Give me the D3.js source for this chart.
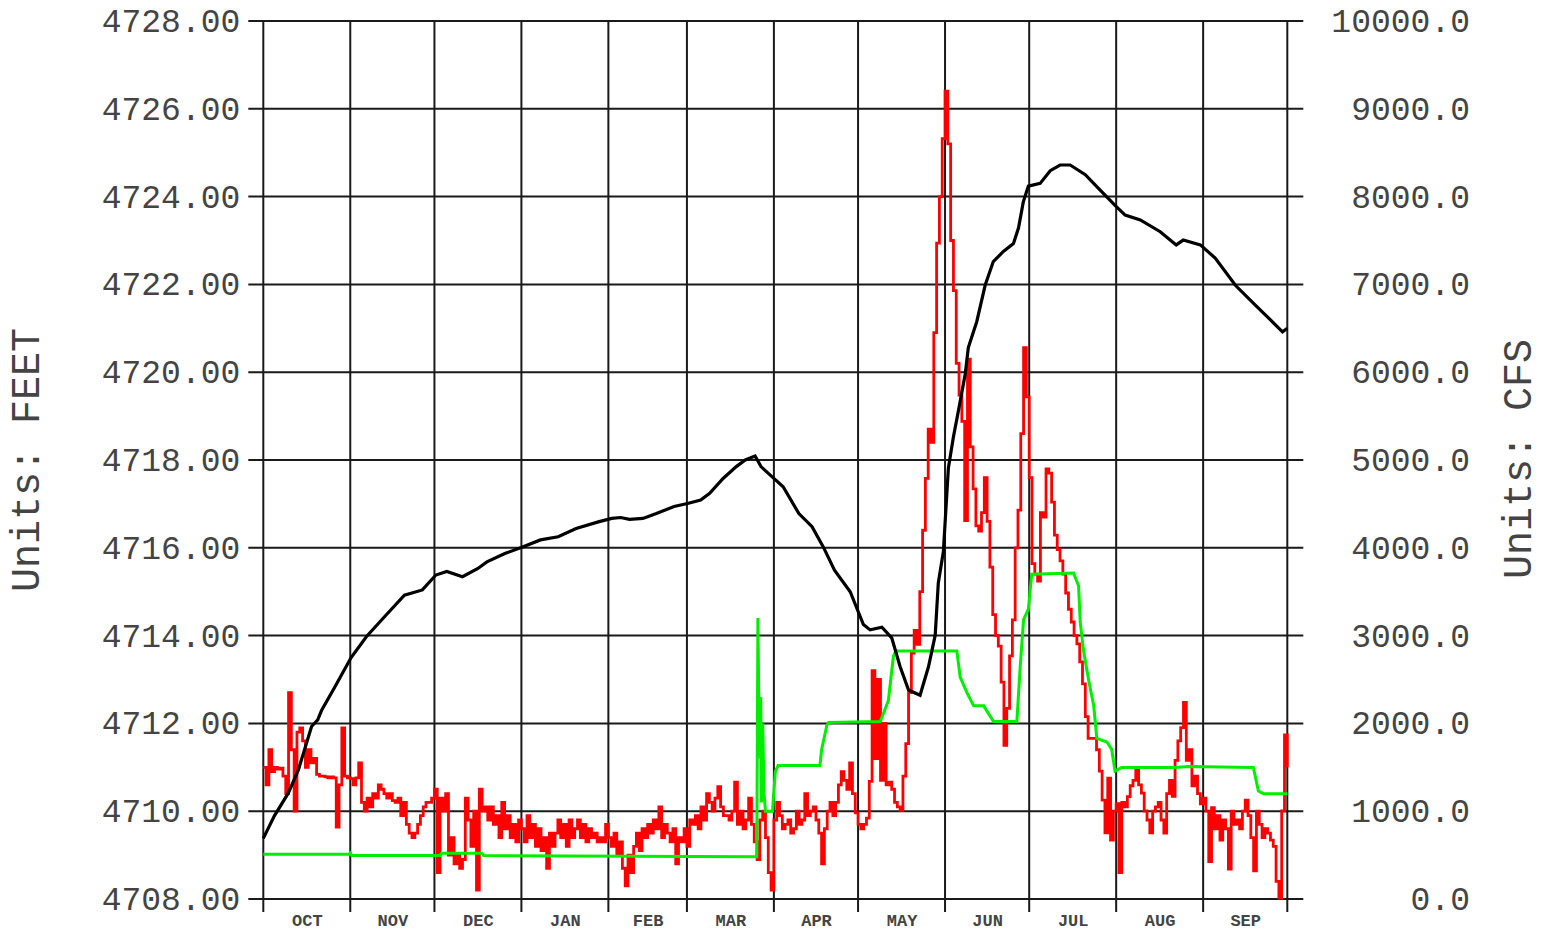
<!DOCTYPE html>
<html>
<head>
<meta charset="utf-8">
<script src="https://cdn.jsdelivr.net/npm/d3@7"></script>
<style>
  body { margin: 0; background: #fff; }
  svg { display: block; }
</style>
</head>
<body>
<svg id="chart" width="1544" height="934"></svg>
<script>
// month labels along the bottom (water year, Oct - Sep)
const months = ['OCT', 'NOV', 'DEC', 'JAN', 'FEB', 'MAR', 'APR', 'MAY', 'JUN', 'JUL', 'AUG', 'SEP'];

// tick values
const feetTicks = [4708, 4710, 4712, 4714, 4716, 4718, 4720, 4722, 4724, 4726, 4728];
const cfsTicks = [0, 1000, 2000, 3000, 4000, 5000, 6000, 7000, 8000, 9000, 10000];

// daily inflow (cfs), red, one array per month
const inflowOct = [1500,1300,1700,1450,1500,1480,1490,1400,1200,2350,1700,1000,1900,1950,1800,1500,1700,1550,1600,1420,1400,1400,1390,1380,1390,1380,820,1300,1950,1400,1380];
const inflowNov = [1370,1300,1380,1550,1100,1000,1150,1050,1200,1150,1300,1250,1200,1150,1200,1120,1100,1150,950,1100,850,750,700,750,850,950,1050,1100,1100,1150];
const inflowDec = [1250,300,1150,1000,1200,500,700,400,500,350,450,1150,900,600,1000,100,1250,1000,1050,900,1050,850,950,700,1100,800,950,700,850,650,900];
const inflowJan = [800,650,950,700,850,600,800,550,700,350,750,600,750,900,700,850,600,900,700,800,900,700,850,650,800,700,750,650,700,650,850];
const inflowFeb = [700,600,750,500,650,350,150,500,300,600,750,550,800,700,850,750,900,800,1050,700,850,750,650,800,400,700,650,800];
const inflowMar = [600,900,850,950,800,1050,900,1200,1100,1000,1150,1280,1050,950,950,900,1000,1330,850,1000,800,900,1150,850,650,450,900,1000,700,300,100];
const inflowApr = [900,1100,950,800,850,900,750,800,1000,850,900,1200,950,1000,1050,900,750,400,800,1000,1100,950,1100,1300,1450,1350,1250,1550,1200,980];
const inflowMay = [850,800,850,920,1340,2600,1600,2500,1350,2000,1300,1330,1250,1100,1050,1010,1400,1770,2350,2800,3060,2900,3500,4200,4790,5350,5200,6450,7470,8000,8660];
const inflowJun = [9200,8600,7500,6930,6100,5740,5440,4310,6150,5150,4670,4250,4190,4400,4800,4300,3780,3240,3000,2880,2470,1750,2170,2770,3180,4000,4430,5300,6280,5720];
const inflowJul = [4800,3820,3700,3620,4400,4350,4900,4850,4520,4145,3980,3850,3700,3485,3300,3155,3000,2905,2700,2450,2078,1830,1830,1830,1700,1457,1127,754,1377,670,1000];
const inflowAug = [1085,300,1100,1050,1166,1290,1350,1497,1300,1207,1002,900,752,1000,1050,1100,900,750,1200,1350,1170,1580,1800,1953,2240,1580,1700,1290,1400,1200,1085];
const inflowSep = [1150,1000,425,1040,800,950,670,900,800,340,1000,850,900,800,1000,1127,950,700,320,1000,850,700,800,750,670,600,200,10,1002,1870];
const inflowLast = 1500;

// reservoir elevation (feet), black: day of water year and value
const elevDays = [0,4,8.9,12.5,17.2,19.4,20.8,25.6,31.3,36.8,43.2,50.3,56.7,61.5,65.4,71,76.5,79.7,86.1,92.4,98.8,105.1,111.5,119.4,124.2,127.4,130.5,135.3,140.1,146.4,151.2,155.9,159.1,163.9,168.6,171.8,175.3,177.4,181.3,185.3,190.9,195.6,199.6,203.6,209.2,213.9,216.3,220.5,224,227,230,234.1,237.1,239.5,240.6,242.4,244.2,246,247.8,250.2,251.3,254.3,257.3,260.2,263.8,267.4,269.2,270.9,272.7,276.9,280.5,284,287.6,293,298.3,303.6,307.2,312.6,319.7,325.4,327.9,334,339.3,346.5,353.6,359,363.3,365];
const elevFeet = [4709.38,4709.9,4710.41,4710.94,4711.93,4712.08,4712.3,4712.84,4713.5,4713.98,4714.43,4714.92,4715.04,4715.38,4715.46,4715.34,4715.53,4715.68,4715.87,4716.02,4716.18,4716.25,4716.44,4716.59,4716.67,4716.69,4716.65,4716.67,4716.78,4716.94,4717.01,4717.09,4717.24,4717.58,4717.85,4718.0,4718.09,4717.85,4717.62,4717.39,4716.78,4716.48,4716.02,4715.49,4715.0,4714.25,4714.13,4714.19,4713.95,4713.29,4712.76,4712.64,4713.29,4714.01,4715.2,4715.91,4717.82,4718.53,4719.13,4719.96,4720.56,4721.15,4721.98,4722.52,4722.75,4722.93,4723.29,4723.88,4724.24,4724.3,4724.59,4724.72,4724.72,4724.5,4724.15,4723.8,4723.58,4723.47,4723.2,4722.9,4723.01,4722.9,4722.6,4721.98,4721.53,4721.19,4720.92,4721.0];

// release (cfs), green
const releaseDays = [0,30.5,31,31.5,63,63.5,78,78.5,175.9,176.3,176.6,177,177.3,177.6,178,178.5,179,181.5,182.5,183.5,198.4,199,200.9,201.5,219.9,221,222.8,224.6,225.5,247.2,248.4,250.8,253.2,256.8,259.1,260.3,268.6,269.8,271,272.7,273.9,288.8,290.6,291.2,292.4,294.2,296,297.1,300.7,302.4,303.6,306,324.4,330,352.9,354.7,356.5,365];
const releaseCfs = [510,510,525,495,495,520,520,495,482,3200,2300,1600,2300,1100,2000,1200,1000,1000,1450,1520,1520,1700,1982,2010,2021,2110,2260,2765,2826,2826,2528,2350,2200,2200,2081,2021,2021,2647,3182,3301,3700,3712,3567,3153,2822,2491,2201,1829,1788,1705,1457,1498,1498,1510,1498,1229,1200,1200];

const inflow = [].concat(inflowOct, inflowNov, inflowDec, inflowJan, inflowFeb, inflowMar,
	inflowApr, inflowMay, inflowJun, inflowJul, inflowAug, inflowSep, [inflowLast]);

const start = new Date(Date.UTC(2021, 9, 1));
const end = new Date(Date.UTC(2022, 9, 1));
const dayMs = 86400000;
function dayToDate(d) { return new Date(start.getTime() + d * dayMs); }

const plotLeft = 263.3, plotRight = 1287.3, plotTop = 21, plotBottom = 899;
const mono = '"Liberation Mono", "Courier New", monospace';

const svg = d3.select('#chart');

const x = d3.scaleUtc().domain([start, end]).range([plotLeft, plotRight]);
const yFeet = d3.scaleLinear().domain([4708, 4728]).range([plotBottom, plotTop]);
const yCfs = d3.scaleLinear().domain([0, 10000]).range([plotBottom, plotTop]);

// grid
const grid = svg.append('g').attr('stroke', '#1a1a1a').attr('stroke-width', 2);
grid.selectAll('line.h').data(feetTicks).join('line')
	.attr('x1', plotLeft - 15).attr('x2', plotRight + 16)
	.attr('y1', d => yFeet(d)).attr('y2', d => yFeet(d));
const monthStarts = d3.utcMonth.range(start, d3.utcDay.offset(end, 1));
grid.selectAll('line.v').data(monthStarts).join('line')
	.attr('x1', d => x(d)).attr('x2', d => x(d))
	.attr('y1', plotTop).attr('y2', plotBottom + 13);

// left axis
const leftAxis = svg.append('g')
	.attr('transform', `translate(${plotLeft},0)`)
	.call(d3.axisLeft(yFeet).tickValues(feetTicks).tickFormat(d3.format('.2f')).tickSize(0).tickPadding(23));
leftAxis.select('.domain').remove();
leftAxis.selectAll('text').attr('font-family', mono).attr('font-size', 33).attr('fill', '#444');

// right axis
const rightAxis = svg.append('g')
	.attr('transform', `translate(${plotRight},0)`)
	.call(d3.axisRight(yCfs).tickValues(cfsTicks).tickFormat(d3.format('.1f')).tickSize(0));
rightAxis.select('.domain').remove();
rightAxis.selectAll('text').attr('font-family', mono).attr('font-size', 33).attr('fill', '#444')
	.attr('text-anchor', 'end').attr('x', 1470 - plotRight);

// month labels, centred in each month
const midMonths = monthStarts.slice(0, 12).map(d => new Date((d.getTime() + d3.utcMonth.offset(d, 1).getTime()) / 2));
const bottomAxis = svg.append('g')
	.attr('transform', `translate(0,${plotBottom})`)
	.call(d3.axisBottom(x).tickValues(midMonths).tickFormat((d, i) => months[i]).tickSize(0).tickPadding(15));
bottomAxis.select('.domain').remove();
bottomAxis.selectAll('text').attr('font-family', mono).attr('font-size', 17)
	.attr('font-weight', 'bold').attr('fill', '#444');

// axis titles
svg.append('text')
	.attr('transform', 'translate(39,460) rotate(-90)')
	.attr('text-anchor', 'middle').attr('font-family', mono).attr('font-size', 40).attr('fill', '#444')
	.text('Units: FEET');
svg.append('text')
	.attr('transform', 'translate(1531,459) rotate(-90)')
	.attr('text-anchor', 'middle').attr('font-family', mono).attr('font-size', 40).attr('fill', '#444')
	.text('Units: CFS');

// series
const inflowLine = d3.line()
	.x((d, i) => x(dayToDate(i)))
	.y(d => yCfs(d))
	.curve(d3.curveStepAfter);
svg.append('path').datum(inflow)
	.attr('fill', 'none').attr('stroke', '#ff0000').attr('stroke-width', 2.8)
	.attr('d', inflowLine);

const releaseLine = d3.line()
	.x(d => x(dayToDate(d[0])))
	.y(d => yCfs(d[1]));
svg.append('path').datum(d3.zip(releaseDays, releaseCfs))
	.attr('fill', 'none').attr('stroke', '#00ee00').attr('stroke-width', 3)
	.attr('d', releaseLine);

const elevLine = d3.line()
	.x(d => x(dayToDate(d[0])))
	.y(d => yFeet(d[1]));
svg.append('path').datum(d3.zip(elevDays, elevFeet))
	.attr('fill', 'none').attr('stroke', '#000').attr('stroke-width', 3.2)
	.attr('d', elevLine);
</script>
</body>
</html>
